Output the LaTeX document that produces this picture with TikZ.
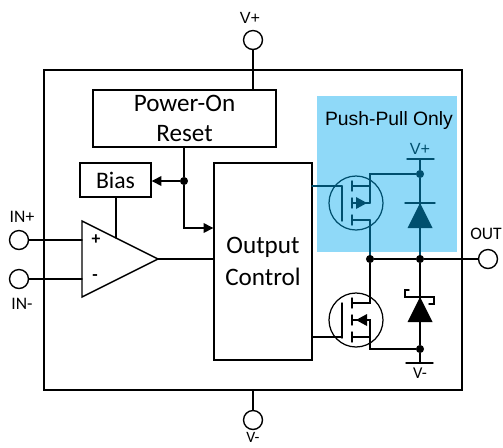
\documentclass[tikz,border=0pt]{standalone}
\usepackage{fontspec}
\setmainfont{Carlito}
\setsansfont{Liberation Sans}
\usepackage{tikz}
\usetikzlibrary{arrows.meta}
\usetikzlibrary{positioning}
\definecolor{pushblue}{HTML}{8FD9F8}
\definecolor{pushteal}{HTML}{004F6E}
\tikzset{
  wire/.style={line width=0.8pt,line cap=round},
  blockbox/.style={draw,line width=0.8pt,inner sep=0pt,align=center,font=\fontsize{14.3}{17.4}\selectfont},
  pinring/.style={draw,circle,line width=0.8pt,minimum size=10.8pt,inner sep=0pt},
  pinlabel/.style={inner sep=0pt,font=\fontsize{10}{12}\selectfont},
  arlabel/.style={inner sep=0pt,font=\sffamily\fontsize{9.2}{11}\selectfont},
  dotnode/.style={circle,fill,minimum size=4.6pt,inner sep=0pt},
  tiptri/.style={-{Triangle[length=5.5pt,width=5.5pt]}},
  mosfet/.pic={
    \draw[line width=0.7pt] (0,0) circle (27);
    \draw[wire] (-14,-17) -- (-14,18);
    \foreach \y in {-17,0,17} {
      \draw[wire] (-4,\y-5) -- (-4,\y+5);
    }
  }
}
\begin{document}
\begin{tikzpicture}[x=0.02cm,y=-0.02cm]
  \useasboundingbox (0,0) rectangle (503,447);

  \fill[pushblue] (317,96) rectangle (457,252);
  \node[draw,line width=0.9pt,minimum width=8.36cm,minimum height=6.4cm,inner sep=0pt] (chip) at (253,230) {};

  % blocks
  \node[blockbox,minimum width=183*0.02cm,minimum height=57*0.02cm] (por) at (184.5,118.5) {Power-On\\Reset};
  \node[blockbox,font=\fontsize{13.5}{16}\selectfont,minimum width=71*0.02cm,minimum height=34*0.02cm] (bias) at (115.5,180) {Bias};
  \node[blockbox,minimum width=98*0.02cm,minimum height=197*0.02cm] (ctrl) at (263,261.5) {Output\\[0.4pt]Control};

  % pins
  \node[pinring] (vptop) at (253,40) {};
  \node[pinring] (vmbot) at (253,420) {};
  \node[pinring] (inp) at (19,240) {};
  \node[pinring] (inm) at (19,279) {};
  \node[pinring] (out) at (488,259) {};
  \node[arlabel] at (250,18) {V+};
  \node[pinlabel,font=\fontsize{9}{10}\selectfont] at (253,437) {V-};
  \node[pinlabel] at (22,217) {IN+};
  \node[pinlabel] at (22,304) {IN-};
  \node[pinlabel] at (486,234) {OUT};

  % comparator
  \coordinate (opa) at (82,221);
  \coordinate (opb) at (82,297);
  \coordinate (opo) at (158,259);
  \draw[wire,line join=miter] (opa) -- (opo) -- (opb) -- cycle;
  \node[font=\bfseries\fontsize{10}{10}\selectfont,inner sep=0pt] at (96,240) {+};
  \node[font=\bfseries\fontsize{10}{10}\selectfont,inner sep=0pt] at (95,278) {-};
  \draw[wire] (inp) -- (82,240);
  \draw[wire] (inm) -- (82,279);
  \draw[wire] (opo) -- (ctrl.west |- opo);
  \draw[wire] (116,197) -- (116,238);

  % power-on and bias
  \draw[wire] (vptop) -- (vptop |- por.north);
  \draw[wire] (vmbot) -- (vmbot |- chip.south);
  \node[dotnode] (biasdot) at (184,181) {};
  \draw[wire] (por.south -| biasdot) -- (biasdot);
  \draw[wire,tiptri] (biasdot) -- (bias.east |- biasdot);
  \draw[wire,tiptri] (biasdot) |- (ctrl.west |- 0,228);

  % push-pull part
  \begin{scope}[color=pushteal]
    \node[inner sep=0pt,font=\sffamily\fontsize{11}{13}\selectfont,text=black] at (389,120) {Push-Pull Only};
    \node[arlabel] at (420,149) {V+};
    \coordinate (vpbar) at (420,159);
    \draw[wire] (407,159) -- (434,159);
    \node[dotnode] (vpdot) at (420,174) {};
    \pic at (356,203) {mosfet};
    \draw[wire] (312,186) -- (342,186);
    \draw[wire] (352,186) -- (370,186);
    \draw[wire] (352,203) -- (370,203);
    \draw[wire] (352,220) -- (370,220);
    \draw[wire] (vpdot) -| (370,203);
    \fill (367,203) -- (356,197) -- (356,209) -- cycle;
    \fill (420,203) -- (432.5,228) -- (407.5,228) -- cycle;
    \draw[wire] (405,203) -- (435,203);
    \draw[wire] (vpbar) -- (vpdot);
    \draw[wire] (vpdot) -- (420,259);
    \draw[wire] (370,220) -- (370,259);
  \end{scope}

  % low side
  \node[dotnode] (hsdot) at (370,259) {};
  \node[dotnode] (outdot) at (420,259) {};
  \node[dotnode] (vmdot) at (420,349) {};
  \draw[wire] (hsdot) -- (outdot) -- (out);
  \pic at (356,320) {mosfet};
  \draw[wire] (312,337) -- (342,337);
  \draw[wire] (352,303) -- (370,303) -- (hsdot);
  \draw[wire] (352,320) -- (370,320) -- (370,349) -- (vmdot);
  \draw[wire] (352,337) -- (370,337);
  \fill (356,320) -- (367,314) -- (367,326) -- cycle;
  \draw[wire] (outdot) -- (vmdot);
  \draw[wire] (vmdot) -- (420,363);
  \draw[wire] (406,363) -- (433,363);
  \fill (420,297) -- (432.5,322) -- (407.5,322) -- cycle;
  \draw[wire] (409,290) -- (405,290) -- (405,297) -- (434,297) -- (434,304) -- (429,304);
  \node[inner sep=0pt,font=\fontsize{9.4}{11}\selectfont] at (420,373) {V-};
\end{tikzpicture}
\end{document}
